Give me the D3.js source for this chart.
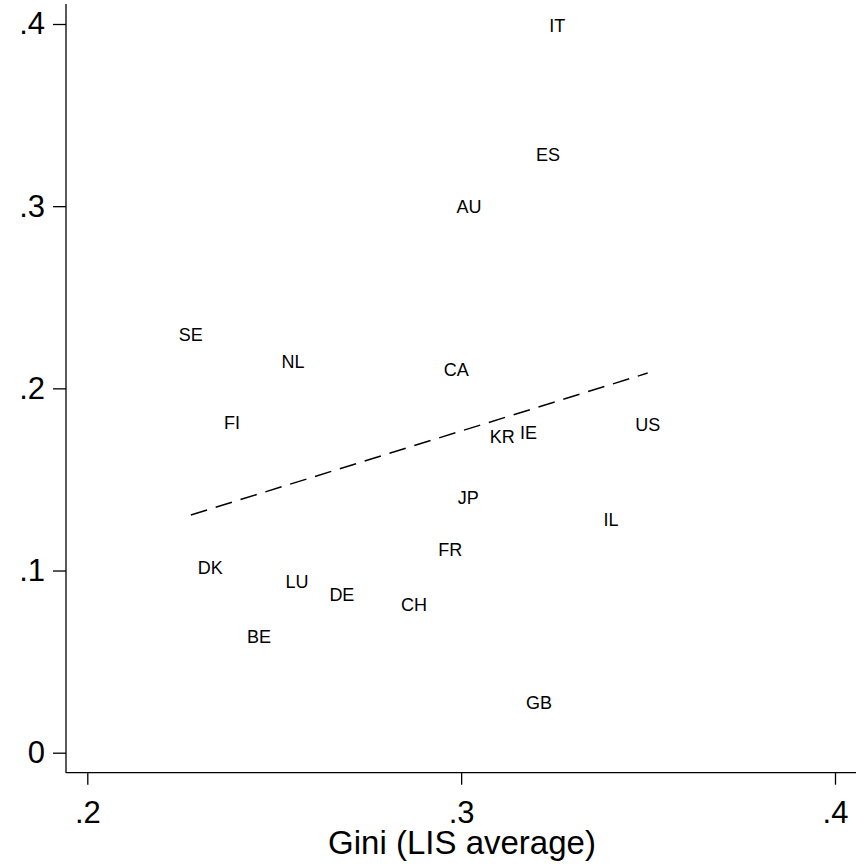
<!DOCTYPE html>
<html>
<head>
<meta charset="utf-8">
<script src="https://cdn.jsdelivr.net/npm/d3@7"></script>
<style>
  body { margin: 0; background: #fff; }
  svg { display: block; font-family: "Liberation Sans", Arial, sans-serif; }
</style>
</head>
<body>
<div id="app"></div>
<script>
// Country codes with Gini (LIS average) and the y value
const countries = ["IT", "ES", "AU", "SE", "NL", "CA", "FI", "KR", "IE", "US",
  "JP", "IL", "FR", "DK", "LU", "DE", "CH", "BE", "GB"];
const gini = [0.3257, 0.3232, 0.3021, 0.2277, 0.2550, 0.2987, 0.2387, 0.3110, 0.3180, 0.3499,
  0.3019, 0.3401, 0.2971, 0.2329, 0.2561, 0.2681, 0.2874, 0.2459, 0.3208];
const yVals = [0.3994, 0.3286, 0.3000, 0.2293, 0.2150, 0.2106, 0.1810, 0.1733, 0.1760, 0.1804,
  0.1398, 0.1278, 0.1118, 0.1019, 0.0937, 0.0871, 0.0811, 0.0635, 0.0273];
const xTicks = [0.2, 0.3, 0.4];
const yTicks = [0, 0.1, 0.2, 0.3, 0.4];

const width = 856, height = 864;

const svg = d3.select("#app")
  .append("svg")
  .attr("width", width)
  .attr("height", height);

const x = d3.scaleLinear().domain([0.2, 0.4]).range([87.3, 835]);
const y = d3.scaleLinear().domain([0, 0.4]).range([752.7, 24]);

const fmt = d => d === 0 ? "0" : d3.format(".1f")(d).replace(/^0/, "");

// axis lines (they run past the tick range, Stata style)
svg.append("line")
  .attr("x1", 66).attr("x2", 66)
  .attr("y1", 4).attr("y2", 773)
  .attr("stroke", "#000").attr("stroke-width", 1.3);
svg.append("line")
  .attr("x1", 66).attr("x2", width)
  .attr("y1", 772.7).attr("y2", 772.7)
  .attr("stroke", "#000").attr("stroke-width", 1.3);

// y axis
svg.append("g")
  .attr("transform", "translate(66,0)")
  .call(d3.axisLeft(y).tickValues(yTicks).tickFormat(fmt).tickSize(13).tickPadding(8))
  .call(g => g.select(".domain").remove())
  .call(g => g.selectAll("line").attr("stroke-width", 1.3))
  .call(g => g.selectAll("text").attr("font-size", 31).attr("font-family", null).attr("fill", "#000"));

// x axis
svg.append("g")
  .attr("transform", "translate(0,772.7)")
  .call(d3.axisBottom(x).tickValues(xTicks).tickFormat(fmt).tickSize(12).tickPadding(16))
  .call(g => g.select(".domain").remove())
  .call(g => g.selectAll("line").attr("stroke-width", 1.3))
  .call(g => g.selectAll("text").attr("font-size", 31).attr("font-family", null).attr("fill", "#000"));

// x axis title
svg.append("text")
  .attr("x", 462)
  .attr("y", 854)
  .attr("text-anchor", "middle")
  .attr("font-size", 33)
  .text("Gini (LIS average)");

// linear fit over the observed range
const mx = d3.mean(gini), my = d3.mean(yVals);
const slope = d3.sum(gini, (g, i) => (g - mx) * (yVals[i] - my)) /
  d3.sum(gini, g => (g - mx) * (g - mx));
const fit = d3.extent(gini).map(g => [g, my + slope * (g - mx)]);

svg.append("path")
  .datum(fit)
  .attr("fill", "none")
  .attr("stroke", "#000")
  .attr("stroke-width", 1.5)
  .attr("stroke-dasharray", "17,9")
  .attr("d", d3.line().x(d => x(d[0])).y(d => y(d[1])));

// country labels, centred on their points
svg.append("g")
  .selectAll("text")
  .data(countries)
  .join("text")
  .attr("x", (d, i) => x(gini[i]))
  .attr("y", (d, i) => y(yVals[i]))
  .attr("dy", "0.36em")
  .attr("text-anchor", "middle")
  .attr("font-size", 18)
  .text(d => d);
</script>
</body>
</html>
